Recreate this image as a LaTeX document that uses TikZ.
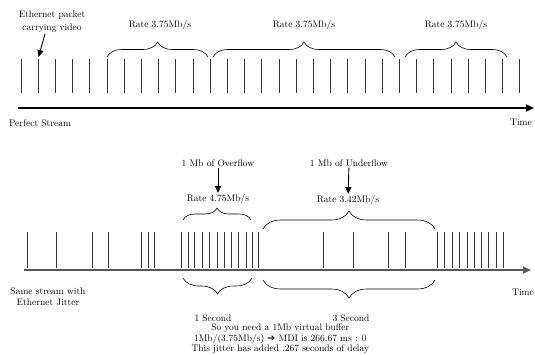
\documentclass[tikz,border=0pt]{standalone}
\usepackage{fontspec}
\usetikzlibrary{arrows.meta, positioning, decorations.pathreplacing}
\newfontfamily\symfont{DejaVu Sans}

\begin{document}
\begin{tikzpicture}[
    x=1pt, y=-1pt,
    lbl/.style={
        inner sep=1pt,
        align=center,
        font=\fontsize{9.5}{11}\selectfont
    },
    tick/.style={line width=0.9pt, black!80},
    axis/.style={line width=1.6pt, -{Triangle[length=8pt, width=7pt]}},
    brc/.style={decorate, decoration={brace, amplitude=#1}, line width=0.6pt},
    pointer/.style={-{Triangle[length=7pt, width=6pt]}, line width=0.9pt}
]
\useasboundingbox (0,0) rectangle (535,354);

% Perfect stream
\foreach \i in {0,...,29}
    \draw[tick] ({21+17.2*\i},59) -- ({21+17.2*\i},93);
\coordinate (top start) at (18,108);
\coordinate (top end) at (534,108);
\draw[axis] (top start) -- (top end);

\node[lbl] (perfect) at (40,123) {Perfect Stream};
\node[lbl] (time top) at (521,122) {Time};

\node[lbl, font=\fontsize{9.5}{13}\selectfont] (packet) at (52,22) {Ethernet packet\\
carrying video};
\coordinate (packet tip) at (38.5,57);
\draw[pointer] ([xshift=-7pt]packet.south) -- (packet tip);

% Top braces
\draw[brc=15pt] (107,57) -- (208,57);
\draw[brc=15pt] (213,57) -- (395,57);
\draw[brc=15pt] (405,57) -- (507,57);
\node[lbl] (rate a) at (160,25) {Rate 3.75Mb/s};
\node[lbl] (rate b) at (304,25) {Rate 3.75Mb/s};
\node[lbl] (rate c) at (456,25) {Rate 3.75Mb/s};

% Stream with jitter
\foreach \x in {27,56,92,108,141,148,154,
                181,188,194,202,209,217,224,231,238,246,252,258,
                323,353,388,405,
                437,444,452,459,467,474,481,488,496,503}
    \draw[tick] (\x,232) -- (\x,268);
\coordinate (bot start) at (24,270);
\coordinate (bot end) at (531,270);
\draw[axis, gray!70!black] (bot start) -- (bot end);

\node[lbl] (same) at (48,297) {Same stream with\\
Ethernet Jitter};
\node[lbl] (time bot) at (523,292) {Time};

% Overflow / underflow
\node[lbl] (over) at (218,163) {1 Mb of Overflow};
\node[lbl] (rate d) at (218,199) {Rate 4.75Mb/s};
\draw[pointer] (over) -- (rate d);
\draw[brc=12pt] (183,220) -- (251,220);

\node[lbl] (under) at (349,163) {1 Mb of Underflow};
\node[lbl] (rate e) at (348,200) {Rate 3.42Mb/s};
\draw[pointer] (under) -- (rate e);
\draw[brc=18pt] (263,229) -- (435,229);

% Time spans
\draw[brc=16pt] (252,278) -- (183,278);
\draw[brc=18pt] (435,280) -- (263,280);
\node[lbl] (one sec) at (213,318) {1 Second};
\node[lbl] (three sec) at (351,318) {3 Second};

\node[lbl, below=0pt of three sec.south west, anchor=north, xshift=-51pt,
      font=\fontsize{9.5}{10.5}\selectfont] (buffer)
{So you need a 1Mb virtual buffer\\
1Mb/(3.75Mb/s) {\symfont ➔} MDI is 266.67 ms : 0\\
This jitter has added .267 seconds of delay};

\end{tikzpicture}
\end{document}
